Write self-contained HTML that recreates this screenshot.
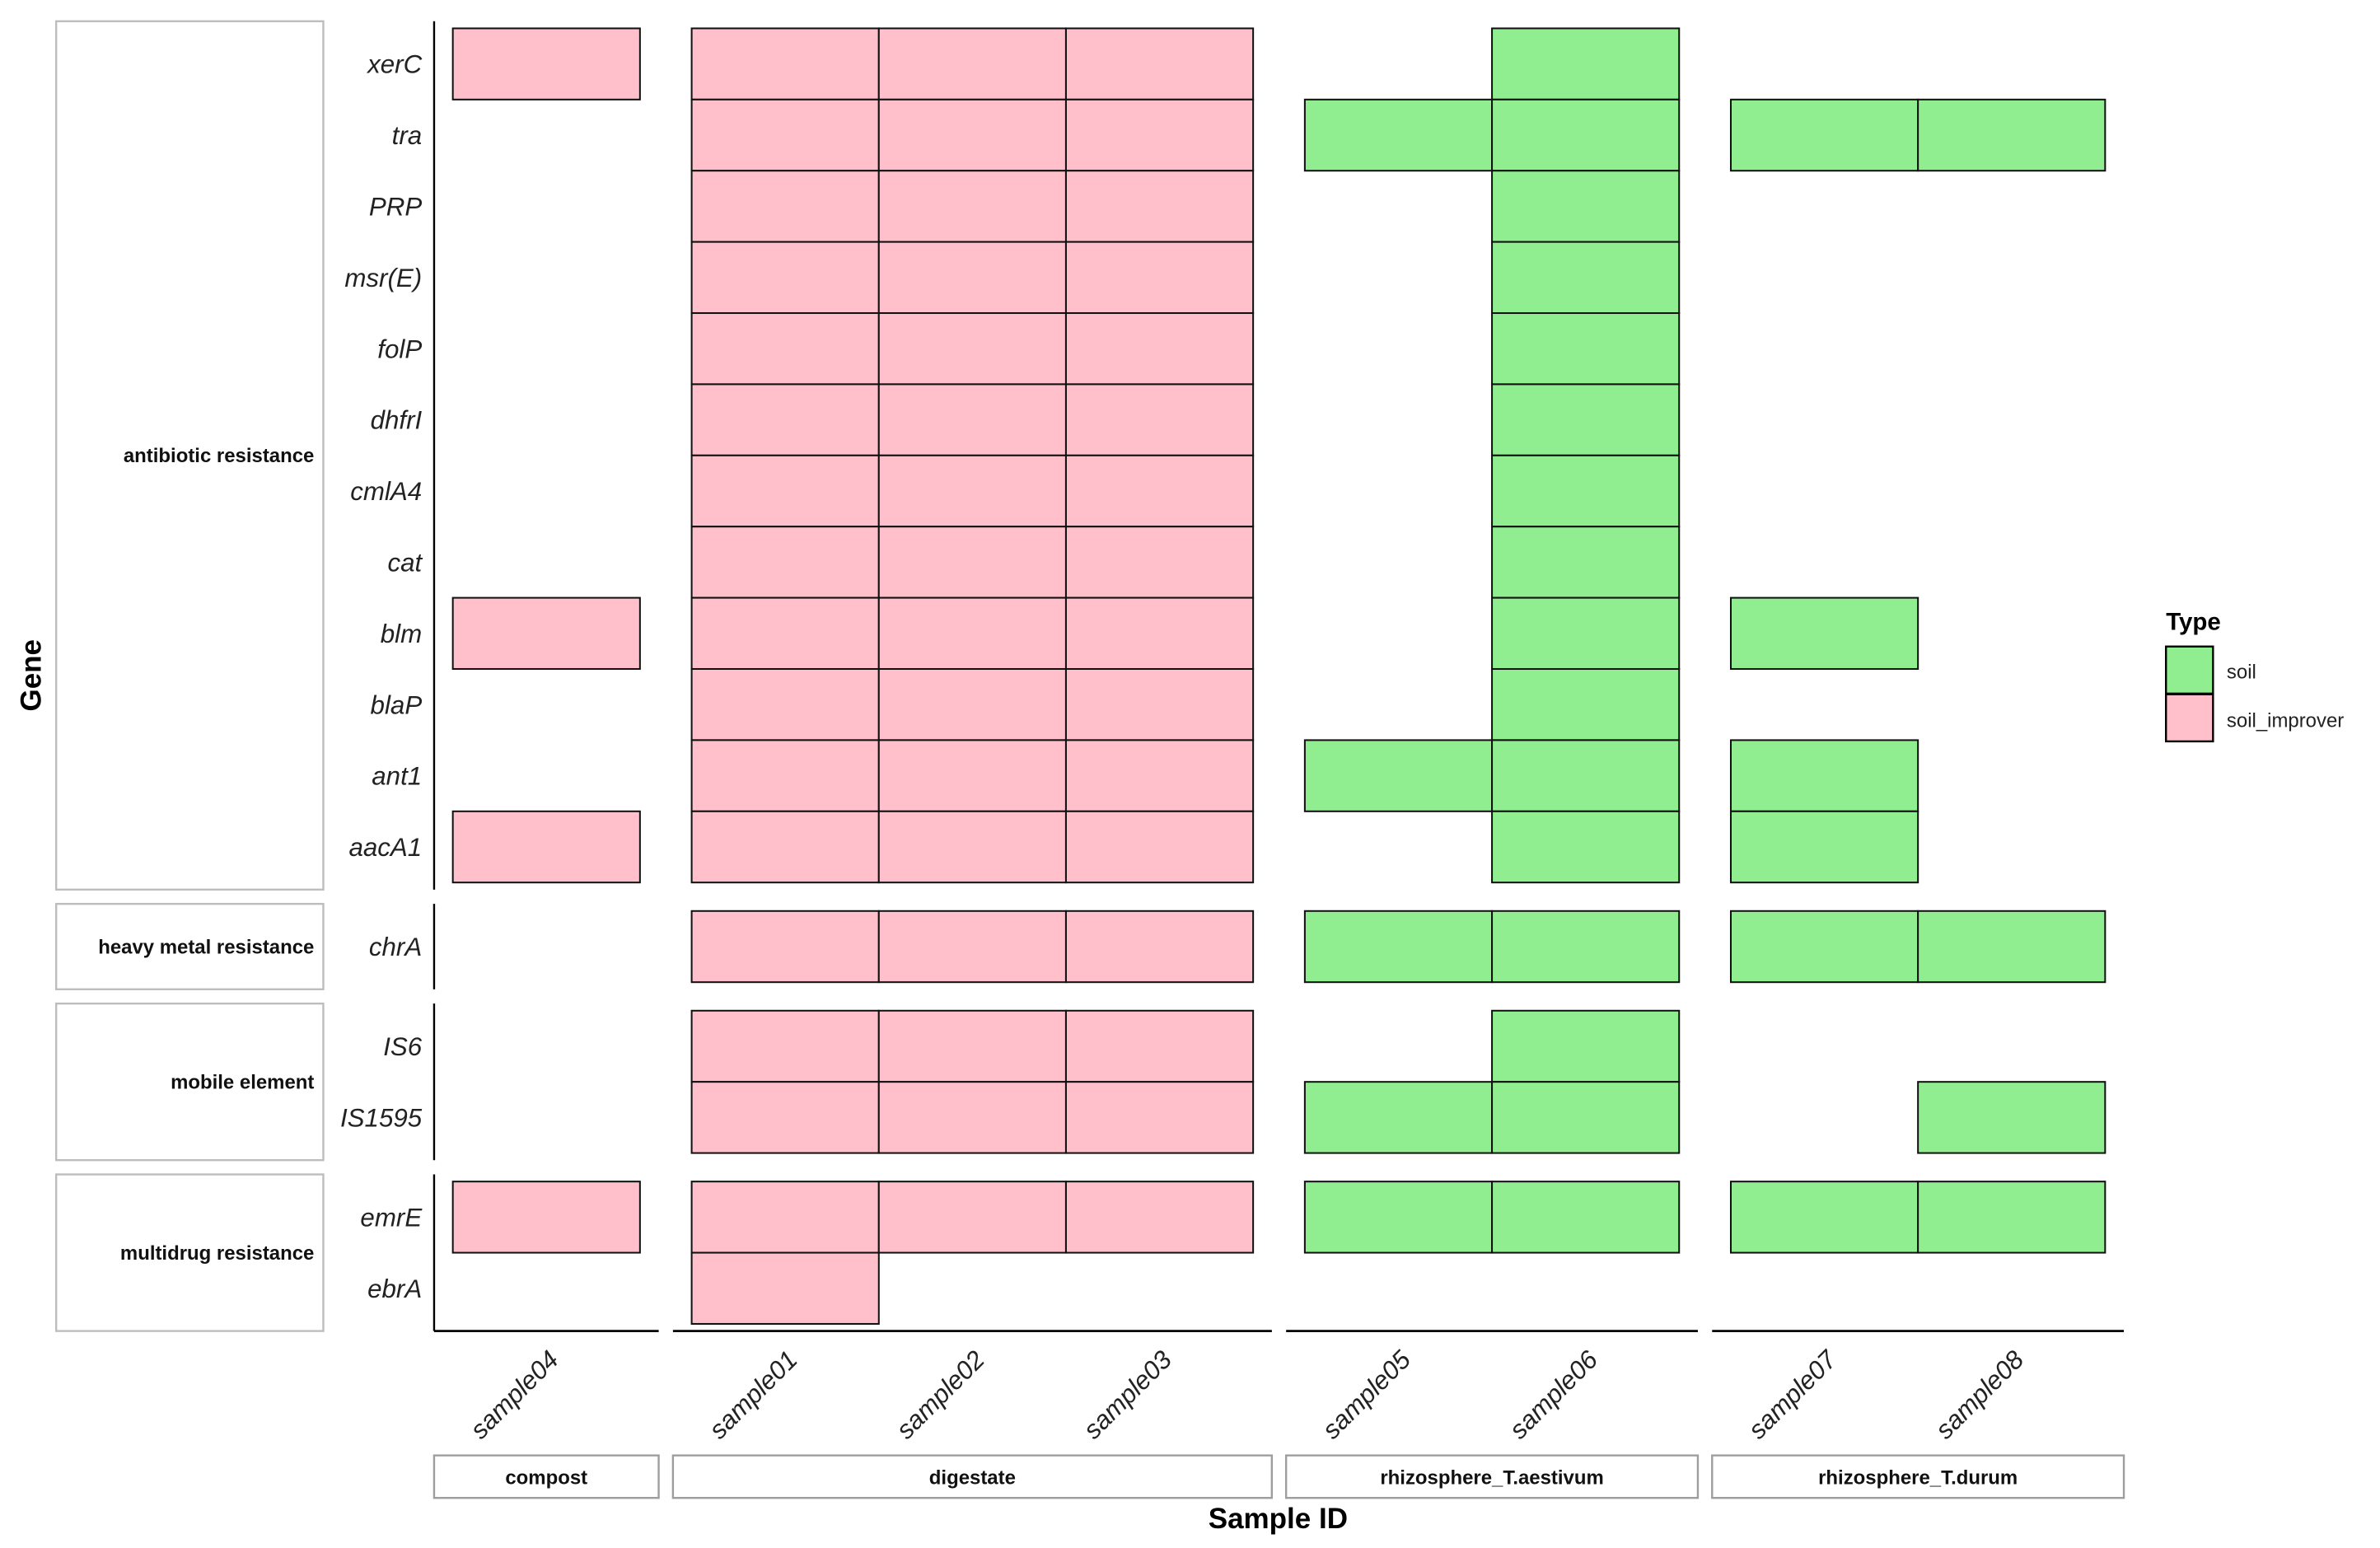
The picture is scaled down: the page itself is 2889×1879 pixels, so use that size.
<!DOCTYPE html>
<html><head><meta charset="utf-8"><style>
html,body{margin:0;padding:0;background:#fff;}
svg{display:block;}
text{font-family:"Liberation Sans",Arial,sans-serif;}
</style></head><body>
<svg id="chart" width="2889" height="1879" viewBox="0 0 1568 1020" preserveAspectRatio="none" xmlns="http://www.w3.org/2000/svg">
<g id="strips-y"></g><g id="panels"></g><g id="cells"></g><g id="axes"></g><g id="labels"></g>
<text x="0" y="0" transform="translate(27,445) rotate(-90)" text-anchor="middle" font-size="19" font-weight="bold" fill="#000">Gene</text>
<text x="842" y="1007" text-anchor="middle" font-size="19" font-weight="bold" fill="#000">Sample ID</text>
<g>
<text x="1427" y="415" font-size="16" font-weight="bold" fill="#000">Type</text>
<rect x="1427" y="426" width="31" height="31" fill="#90EE90" stroke="#000" stroke-width="1.3"/>
<rect x="1427" y="457.5" width="31" height="31" fill="#FFC0CB" stroke="#000" stroke-width="1.3"/>
<text x="1467" y="447" font-size="13" fill="#222">soil</text>
<text x="1467" y="479" font-size="13" fill="#222">soil_improver</text>
</g>
</svg>
<script>
const rowGroups = ["antibiotic resistance","heavy metal resistance","mobile element","multidrug resistance"];
const rowGenes = [["xerC","tra","PRP","msr(E)","folP","dhfrI","cmlA4","cat","blm","blaP","ant1","aacA1"],["chrA"],["IS6","IS1595"],["emrE","ebrA"]];
const colGroups = ["compost","digestate","rhizosphere_T.aestivum","rhizosphere_T.durum"];
const colSamples = [["sample04"],["sample01","sample02","sample03"],["sample05","sample06"],["sample07","sample08"]];
const sampleType = {sample01:"soil_improver",sample02:"soil_improver",sample03:"soil_improver",sample04:"soil_improver",sample05:"soil",sample06:"soil",sample07:"soil",sample08:"soil"};
const presence = {
 "xerC":["sample04","sample01","sample02","sample03","sample06"],
 "tra":["sample01","sample02","sample03","sample05","sample06","sample07","sample08"],
 "PRP":["sample01","sample02","sample03","sample06"],
 "msr(E)":["sample01","sample02","sample03","sample06"],
 "folP":["sample01","sample02","sample03","sample06"],
 "dhfrI":["sample01","sample02","sample03","sample06"],
 "cmlA4":["sample01","sample02","sample03","sample06"],
 "cat":["sample01","sample02","sample03","sample06"],
 "blm":["sample04","sample01","sample02","sample03","sample06","sample07"],
 "blaP":["sample01","sample02","sample03","sample06"],
 "ant1":["sample01","sample02","sample03","sample05","sample06","sample07"],
 "aacA1":["sample04","sample01","sample02","sample03","sample06","sample07"],
 "chrA":["sample01","sample02","sample03","sample05","sample06","sample07","sample08"],
 "IS6":["sample01","sample02","sample03","sample06"],
 "IS1595":["sample01","sample02","sample03","sample05","sample06","sample08"],
 "emrE":["sample04","sample01","sample02","sample03","sample05","sample06","sample07","sample08"],
 "ebrA":["sample01"]
};
const typeColor = {soil:"#90EE90", soil_improver:"#FFC0CB"};

const NS="http://www.w3.org/2000/svg";
function mk(tag, attrs, parent, txt){const e=document.createElementNS(NS,tag);for(const k in attrs)e.setAttribute(k,attrs[k]);if(txt!==undefined)e.textContent=txt;parent.appendChild(e);return e;}
const CW=123.3, RH=46.9, GAP=9.4, X0=286, Y0=14, PAD=0.1;
const colPanels=[]; let cx=X0;
colSamples.forEach((s,i)=>{const w=(s.length+2*PAD)*CW;colPanels.push({x:cx,w:w});cx+=w+GAP;});
const rowPanels=[]; let cy=Y0;
rowGenes.forEach((g,i)=>{const h=(g.length+2*PAD)*RH;rowPanels.push({y:cy,h:h});cy+=h+GAP;});
const xPos={}, yPos={};
colSamples.forEach((s,i)=>s.forEach((n,j)=>{xPos[n]=colPanels[i].x+(PAD+j)*CW;}));
rowGenes.forEach((g,i)=>g.forEach((n,j)=>{yPos[n]=rowPanels[i].y+(PAD+j)*RH;}));
function xScale(s){return xPos[s];}
function yScale(g){return yPos[g];}

const gStrips=document.getElementById('strips-y'), gCells=document.getElementById('cells'), gAxes=document.getElementById('axes'), gLab=document.getElementById('labels');
rowGroups.forEach((name,i)=>{
  const p=rowPanels[i];
  const r=mk('rect',{x:37,y:p.y,width:176,height:p.h,fill:"#fff",stroke:"#bdbdbd","stroke-width":1.3},gStrips);
  
  
  const t=mk('text',{x:207,y:p.y+p.h/2+4.5,"text-anchor":"end","font-size":13,"font-weight":"bold",fill:"#111"},gStrips,name);
  
  
  const l=mk('line',{x1:X0,x2:X0,y1:p.y,y2:p.y+p.h,stroke:"#000","stroke-width":1.3},gAxes);
  
  
  rowGenes[i].forEach(g=>{
    const tt=mk('text',{x:278,y:yScale(g)+RH/2+6,"text-anchor":"end","font-size":17,"font-style":"italic",fill:"#222"},gLab,g);
    
    
  });
});
colGroups.forEach((name,i)=>{
  const p=colPanels[i];
  const l=mk('line',{x1:p.x,x2:p.x+p.w,y1:877,y2:877,stroke:"#000","stroke-width":1.5},gAxes);
  
  
  const r=mk('rect',{x:p.x,y:959,width:p.w,height:28,fill:"#fff",stroke:"#9e9e9e","stroke-width":1.3},gAxes);
  
  
  const t=mk('text',{x:p.x+p.w/2,y:978,"text-anchor":"middle","font-size":13,"font-weight":"bold",fill:"#111"},gAxes,name);
  
  
  colSamples[i].forEach(s=>{
    const x=xScale(s)+CW/2;
    const tt=mk('text',{x:0,y:0,transform:`translate(${x+9},${897}) rotate(-45)`,"text-anchor":"end","font-size":17,"font-style":"italic",fill:"#222"},gLab,s);
    
    
  });
});
Object.keys(presence).forEach(g=>{
  presence[g].forEach(s=>{
    const r=mk('rect',{x:xScale(s),y:yScale(g),width:CW,height:RH,fill:typeColor[sampleType[s]],stroke:"#111","stroke-width":1.1},gCells);
    
    
  });
});
</script>
</body></html>
